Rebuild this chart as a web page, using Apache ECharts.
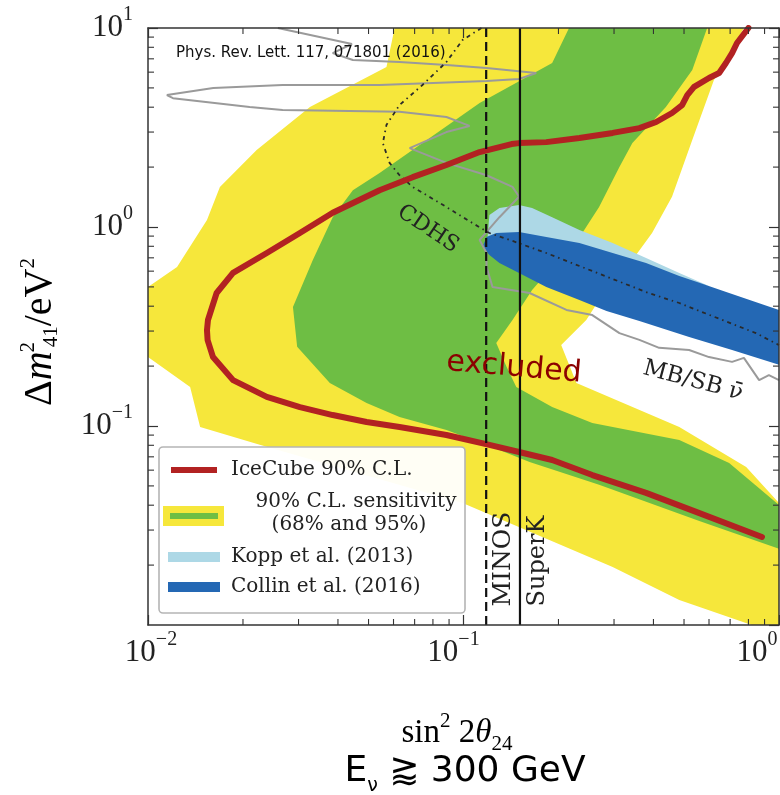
<!DOCTYPE html>
<html>
<head>
<meta charset="utf-8">
<title>IceCube sterile neutrino exclusion</title>
<script src="https://cdn.jsdelivr.net/npm/echarts@6/dist/echarts.min.js"></script>
<style>
  html, body { margin: 0; padding: 0; background: #ffffff; }
  #chart { width: 780px; height: 795px; }
</style>
</head>
<body>
<div id="chart"></div>
<script>
// ---- axes ---------------------------------------------------------------
const xRange = [0.01, 1];          // sin^2 2θ24
const yRange = [0.01, 10];         // Δm^2_41 [eV^2]
const xTickExponents = [-2, -1, 0];
const yTickExponents = [-1, 0, 1];
const minorMultipliers = [2, 3, 4, 5, 6, 7, 8, 9];

// ---- other experiments: vertical limits on sin^2 2θ24 -------------------
const minosLimit = 0.118;
const superKLimit = 0.151;

// ---- IceCube 90% C.L. contour [sin^2 2θ24, Δm^2_41] ---------------------
const iceCube90 = [
  [0.80, 10], [0.736, 8.41], [0.710, 7.48], [0.679, 6.67], [0.646, 5.94],
  [0.600, 5.61], [0.538, 5.06], [0.512, 4.60], [0.493, 4.10], [0.458, 3.74],
  [0.408, 3.37], [0.361, 3.14], [0.297, 2.97], [0.233, 2.80], [0.183, 2.67],
  [0.150, 2.64], [0.142, 2.61], [0.1125, 2.38], [0.0883, 2.05], [0.0690, 1.78],
  [0.0542, 1.53], [0.0385, 1.18], [0.0303, 0.933], [0.0238, 0.740],
  [0.0186, 0.588], [0.0165, 0.466], [0.01549, 0.341], [0.01538, 0.303],
  [0.01545, 0.270], [0.01607, 0.222], [0.0186, 0.170], [0.0238, 0.140],
  [0.0303, 0.1245], [0.0385, 0.1135], [0.0493, 0.1047], [0.0627, 0.0988],
  [0.0883, 0.0901], [0.1208, 0.0804], [0.150, 0.0740], [0.191, 0.0675],
  [0.256, 0.0567], [0.379, 0.0461], [0.546, 0.0370], [0.883, 0.0277]
];

// ---- expected sensitivity bands (closed outlines) ------------------------
const sensitivity95 = [
  [0.06, 12], [0.0605, 10], [0.0570, 6.37], [0.0326, 4.01], [0.0221, 2.44],
  [0.0169, 1.59], [0.01538, 1.084], [0.01236, 0.630], [0.01, 0.499],
  [0.008, 0.35], [0.01, 0.222], [0.0136, 0.157], [0.01463, 0.0988],
  [0.0226, 0.0804], [0.0993, 0.0410], [0.297, 0.01954], [0.483, 0.01336],
  [0.9, 0.0095], [1.05, 0.0095],
  [1.05, 0.037], [1.0, 0.0410], [0.787, 0.0622], [0.483, 0.0988],
  [0.228, 0.1644], [0.204, 0.255], [0.245, 0.341], [0.269, 0.430],
  [0.343, 0.683], [0.396, 0.933], [0.458, 1.42], [0.531, 2.74],
  [0.622, 5.48], [0.774, 10], [0.78, 12]
];
const sensitivity68 = [
  [0.216, 12], [0.216, 10], [0.191, 6.67], [0.1125, 4.20], [0.0823, 2.97],
  [0.0542, 1.87], [0.0446, 1.53], [0.0385, 1.12], [0.0333, 0.683],
  [0.0288, 0.396], [0.0297, 0.250], [0.0377, 0.1644], [0.0493, 0.1306],
  [0.0627, 0.1109], [0.0883, 0.0955], [0.1208, 0.0793], [0.162, 0.0659],
  [0.269, 0.0506], [0.559, 0.0333], [1.05, 0.0235],
  [1.05, 0.0375], [0.695, 0.0652], [0.483, 0.0851], [0.256, 0.1035],
  [0.191, 0.1245], [0.147, 0.157], [0.137, 0.198], [0.127, 0.261],
  [0.143, 0.341], [0.165, 0.482], [0.191, 0.630], [0.238, 0.933],
  [0.269, 1.26], [0.312, 2.00], [0.343, 2.64], [0.438, 4.01],
  [0.531, 6.15], [0.592, 10], [0.592, 12]
];

// ---- global-fit allowed regions ------------------------------------------
const kopp2013 = [
  [0.119, 0.861], [0.1208, 1.149], [0.130, 1.245], [0.150, 1.29],
  [0.165, 1.245], [0.191, 1.12], [0.233, 0.966], [0.297, 0.831],
  [0.379, 0.699], [0.483, 0.588], [0.600, 0.505],
  [0.388, 0.574], [0.201, 0.723], [0.130, 0.766]
];
const collin2016 = [
  [0.1156, 0.812], [0.1183, 0.891], [0.127, 0.933], [0.150, 0.944],
  [0.183, 0.891], [0.233, 0.831], [0.297, 0.740], [0.379, 0.660],
  [0.483, 0.568], [0.559, 0.524], [0.695, 0.466], [1.0, 0.383], [1.05, 0.375],
  [1.05, 0.197], [1.0, 0.203], [0.710, 0.241], [0.519, 0.280],
  [0.361, 0.337], [0.284, 0.378], [0.233, 0.430], [0.183, 0.499],
  [0.150, 0.588], [0.130, 0.660], [0.1208, 0.723], [0.117, 0.77]
];

// ---- MiniBooNE/SciBooNE antineutrino and CDHS contours -------------------
const mbsbContour = [
  [0.0258, 10], [0.0443, 8.31], [0.0385, 7.48], [0.0446, 6.90], [0.0627, 6.75],
  [0.0883, 6.52], [0.1183, 6.29], [0.170, 5.94], [0.150, 5.54], [0.1183, 5.42],
  [0.0542, 5.17], [0.0267, 5.17], [0.0161, 4.99], [0.01148, 4.60], [0.0120, 4.44],
  [0.0210, 4.01], [0.0267, 3.87], [0.0627, 3.79], [0.0883, 3.57], [0.1045, 3.22],
  [0.0883, 3.00], [0.0675, 2.49], [0.0883, 2.10], [0.1183, 1.82], [0.143, 1.59],
  [0.150, 1.42], [0.130, 1.12], [0.1125, 0.861], [0.1183, 0.740], [0.1183, 0.630],
  [0.1236, 0.499], [0.162, 0.466], [0.212, 0.383], [0.256, 0.361], [0.312, 0.293],
  [0.361, 0.271], [0.417, 0.247], [0.519, 0.241], [0.600, 0.222], [0.710, 0.210],
  [0.774, 0.220], [0.865, 0.170], [0.929, 0.180], [1.0, 0.170]
];
const cdhsContour = [
  [0.114, 10], [0.0993, 8.70], [0.0883, 6.75], [0.0741, 5.17], [0.0627, 4.10],
  [0.0570, 3.26], [0.0555, 2.64], [0.0583, 2.10], [0.0627, 1.82], [0.0690, 1.59],
  [0.0883, 1.26], [0.1067, 1.047], [0.1208, 0.933], [0.143, 0.851], [0.183, 0.740],
  [0.233, 0.637], [0.297, 0.548], [0.379, 0.471], [0.483, 0.415], [0.614, 0.357],
  [0.845, 0.293], [1.0, 0.255]
];

// ---- colours ---------------------------------------------------------------
const C = {
  yellow: '#f6e73b',
  green: '#6ebe44',
  lightBlue: '#add8e6',
  blue: '#2468b4',
  red: '#b22222',
  gray: '#9a9a9a',
  ink: '#222222',
  frame: '#333333'
};

// minor ticks (log decades) drawn through the axes' own scales
function minorValues(range) {
  const out = [];
  const lo = Math.round(Math.log10(range[0]));
  const hi = Math.round(Math.log10(range[1]));
  for (let k = lo; k < hi; k++) {
    minorMultipliers.forEach(m => out.push(m * Math.pow(10, k)));
  }
  return out;
}
const xMinor = minorValues(xRange);
const yMinor = minorValues(yRange);

function expText(e) { return e < 0 ? '\u2212' + (-e) : String(e); }

// small horizontal nudges of the bottom tick labels
const xLabelNudge = { '-2': [6, 0], '-1': [0, 20], '0': [0, 44] };

const tickRich = {
  b: { fontFamily: 'Liberation Serif', fontSize: 31, lineHeight: 46, color: C.ink },
  e: { fontFamily: 'Liberation Serif', fontSize: 20, verticalAlign: 'top', color: C.ink },
  g6: { width: 6, fontSize: 10 },
  g20: { width: 20, fontSize: 10 },
  g44: { width: 44, fontSize: 10 }
};

function polygonSeries(name, pts, color, z) {
  return {
    type: 'custom', name: name, coordinateSystem: 'cartesian2d',
    xAxisIndex: 0, yAxisIndex: 0, clip: true, silent: true, z: z,
    data: [[0.1, 1]],
    renderItem: function (params, api) {
      return {
        type: 'polygon',
        shape: { points: pts.map(p => api.coord(p)) },
        style: { fill: color, stroke: null }
      };
    }
  };
}

function lineSeries(name, pts, style, z) {
  return {
    type: 'line', name: name, data: pts, xAxisIndex: 0, yAxisIndex: 0,
    showSymbol: false, symbol: 'none', smooth: false, silent: true, z: z,
    clip: true, lineStyle: style
  };
}

function minorTickSeries(values, horizontal) {
  return {
    type: 'custom', coordinateSystem: 'cartesian2d', xAxisIndex: 0, yAxisIndex: 0,
    clip: false, silent: true, z: 12,
    data: values.map(v => horizontal ? [v, 1] : [0.1, v]),
    renderItem: function (params, api) {
      const cs = params.coordSys;
      const len = 6;
      const st = { stroke: C.frame, lineWidth: 1.1 };
      if (horizontal) {
        const px = api.coord([api.value(0), 1])[0];
        return { type: 'group', children: [
          { type: 'line', shape: { x1: px, y1: cs.y + cs.height, x2: px, y2: cs.y + cs.height - len }, style: st },
          { type: 'line', shape: { x1: px, y1: cs.y, x2: px, y2: cs.y + len }, style: st }
        ]};
      }
      const py = api.coord([0.1, api.value(1)])[1];
      return { type: 'group', children: [
        { type: 'line', shape: { x1: cs.x, y1: py, x2: cs.x + len, y2: py }, style: st },
        { type: 'line', shape: { x1: cs.x + cs.width, y1: py, x2: cs.x + cs.width - len, y2: py }, style: st }
      ]};
    }
  };
}

function axisBase(extra) {
  return Object.assign({
    type: 'log', logBase: 10,
    axisLine: { show: true, onZero: false, lineStyle: { color: C.frame, width: 1.5 } },
    axisTick: { show: true, inside: true, length: 10, lineStyle: { color: C.frame, width: 1.2 } },
    splitLine: { show: false },
    minorTick: { show: false },
    z: 10
  }, extra);
}

const xAxes = [
  axisBase({
    min: xRange[0], max: xRange[1], position: 'bottom',
    axisLabel: {
      margin: 5, verticalAlign: 'top', rich: tickRich,
      formatter: function (v) {
        const e = Math.round(Math.log10(v));
        if (xTickExponents.indexOf(e) < 0) return '';
        const nudge = xLabelNudge[String(e)] || [0, 0];
        return (nudge[0] ? '{g' + nudge[0] + '|\u00a0}' : '') +
          '{b|10}{e|' + expText(e) + '}' +
          (nudge[1] ? '{g' + nudge[1] + '|\u00a0}' : '');
      }
    }
  }),
  axisBase({ min: xRange[0], max: xRange[1], position: 'top', axisLabel: { show: false } })
];
const yAxes = [
  axisBase({
    min: yRange[0], max: yRange[1], position: 'left',
    axisLabel: {
      margin: 15, showMinLabel: false, rich: tickRich,
      formatter: function (v) {
        const e = Math.round(Math.log10(v));
        if (yTickExponents.indexOf(e) < 0) return '';
        return '{b|10}{e|' + expText(e) + '}';
      }
    }
  }),
  axisBase({ min: yRange[0], max: yRange[1], position: 'right', axisLabel: { show: false } })
];

// ---- annotation text & legend ----------------------------------------------
function mathStyles(base, script, lh) {
  const f = 'Liberation Serif';
  return {
    t: { fontFamily: f, fontSize: base, lineHeight: lh, color: C.ink },
    ti: { fontFamily: f, fontStyle: 'italic', fontSize: base, lineHeight: lh, color: C.ink },
    sp: { fontFamily: f, fontSize: script, verticalAlign: 'top', color: C.ink },
    sp0: { fontFamily: f, fontSize: script, verticalAlign: 'top', color: C.ink, width: 0, align: 'left' },
    sb: { fontFamily: f, fontSize: script, verticalAlign: 'bottom', color: C.ink, align: 'left' },
    g: { width: 4, fontSize: 8 }
  };
}
const legendFont = { fontFamily: 'DejaVu Serif', fontSize: 20, fill: C.ink };

const graphics = [
  { type: 'text', x: 176, y: 53, z: 100, silent: true,
    style: { text: 'Phys. Rev. Lett. 117, 071801 (2016)', fontFamily: 'DejaVu Sans', fontSize: 15,
             fill: '#111', align: 'left', verticalAlign: 'middle' } },
  { type: 'text', x: 428, y: 229, rotation: -0.59, z: 100, silent: true,
    style: { text: 'CDHS', fontFamily: 'DejaVu Serif', fontSize: 22, fill: C.ink,
             align: 'center', verticalAlign: 'middle' } },
  { type: 'text', x: 514, y: 368, rotation: -0.087, z: 100, silent: true,
    style: { text: 'excluded', fontFamily: 'DejaVu Sans', fontSize: 30, fill: '#8b0000',
             align: 'center', verticalAlign: 'middle' } },
  { type: 'text', x: 693, y: 381, rotation: -0.26, z: 100, silent: true,
    style: { text: 'MB/SB \u03bd\u0304', fontFamily: 'DejaVu Serif', fontSize: 23, fill: C.ink,
             align: 'center', verticalAlign: 'middle' } },
  { type: 'text', x: 503, y: 559, rotation: Math.PI / 2, z: 100, silent: true,
    style: { text: 'MINOS', fontFamily: 'DejaVu Serif', fontSize: 25, fill: C.ink,
             align: 'center', verticalAlign: 'middle' } },
  { type: 'text', x: 538, y: 561, rotation: Math.PI / 2, z: 100, silent: true,
    style: { text: 'SuperK', fontFamily: 'DejaVu Serif', fontSize: 24, fill: C.ink,
             align: 'center', verticalAlign: 'middle' } },
  // axis titles
  { type: 'text', x: 457, y: 733, z: 100, silent: true,
    style: { text: '{t|sin}{sp|2}{t| 2}{ti|\u03b8}{sb|24}', rich: mathStyles(33, 21, 44),
             align: 'center', verticalAlign: 'middle' } },
  { type: 'text', x: 40, y: 332, rotation: Math.PI / 2, z: 100, silent: true,
    style: { text: '{t|\u0394}{ti|m}{g|\u00a0}{sp0|2}{sb|41}{t|/eV}{sp|2}', rich: mathStyles(40, 21, 44),
             align: 'center', verticalAlign: 'middle' } },
  // energy note
  { type: 'text', x: 465, y: 772, z: 100, silent: true,
    style: {
      text: '{e|E}{s|\u03bd}{e| \u2a86 300 GeV}',
      rich: {
        e: { fontFamily: 'DejaVu Sans', fontSize: 36, lineHeight: 48, color: '#111' },
        s: { fontFamily: 'DejaVu Sans', fontSize: 19, verticalAlign: 'bottom', color: '#111' }
      },
      align: 'center', verticalAlign: 'middle'
    } },
  // legend
  { type: 'rect', z: 90, silent: true,
    shape: { x: 159, y: 447, width: 306, height: 166, r: 4 },
    style: { fill: 'rgba(255,255,255,0.95)', stroke: '#b5b5b5', lineWidth: 1.6 } },
  { type: 'line', z: 91, silent: true, shape: { x1: 171, y1: 470, x2: 217, y2: 470 },
    style: { stroke: C.red, lineWidth: 6 } },
  { type: 'text', x: 231, y: 470, z: 91, silent: true,
    style: Object.assign({ text: 'IceCube 90% C.L.', align: 'left', verticalAlign: 'middle' }, legendFont) },
  { type: 'rect', z: 91, silent: true, shape: { x: 163, y: 506, width: 61, height: 20 },
    style: { fill: C.yellow } },
  { type: 'line', z: 92, silent: true, shape: { x1: 170, y1: 516, x2: 218, y2: 516 },
    style: { stroke: C.green, lineWidth: 6 } },
  { type: 'text', x: 356, y: 502, z: 91, silent: true,
    style: Object.assign({ text: '90% C.L. sensitivity', align: 'center', verticalAlign: 'middle' }, legendFont) },
  { type: 'text', x: 349, y: 525, z: 91, silent: true,
    style: Object.assign({ text: '(68% and 95%)', align: 'center', verticalAlign: 'middle' }, legendFont) },
  { type: 'rect', z: 91, silent: true, shape: { x: 168, y: 552, width: 52, height: 10 },
    style: { fill: C.lightBlue } },
  { type: 'text', x: 231, y: 557, z: 91, silent: true,
    style: Object.assign({ text: 'Kopp et al. (2013)', align: 'left', verticalAlign: 'middle' }, legendFont) },
  { type: 'rect', z: 91, silent: true, shape: { x: 168, y: 582, width: 52, height: 10 },
    style: { fill: C.blue } },
  { type: 'text', x: 231, y: 587, z: 91, silent: true,
    style: Object.assign({ text: 'Collin et al. (2016)', align: 'left', verticalAlign: 'middle' }, legendFont) }
];

const option = {
  animation: false,
  backgroundColor: '#ffffff',
  grid: { left: 148, top: 28, right: 1, bottom: 170, containLabel: false, outerBoundsMode: 'none' },
  xAxis: xAxes,
  yAxis: yAxes,
  series: [
    polygonSeries('95% sensitivity', sensitivity95, C.yellow, 1),
    polygonSeries('68% sensitivity', sensitivity68, C.green, 2),
    polygonSeries('Kopp et al. (2013)', kopp2013, C.lightBlue, 3),
    polygonSeries('Collin et al. (2016)', collin2016, C.blue, 4),
    lineSeries('MB/SB', mbsbContour, { color: C.gray, width: 2 }, 5),
    lineSeries('CDHS', cdhsContour, { color: '#2a2a2a', width: 1.8, type: [4, 4, 1.5, 4] }, 6),
    lineSeries('IceCube 90% C.L.', iceCube90, { color: C.red, width: 6, join: 'round', cap: 'round' }, 7),
    lineSeries('MINOS', [[minosLimit, yRange[0]], [minosLimit, yRange[1]]],
               { color: '#111', width: 2.2, type: [9, 5] }, 8),
    lineSeries('SuperK', [[superKLimit, yRange[0]], [superKLimit, yRange[1]]],
               { color: '#111', width: 2.2 }, 8),
    minorTickSeries(xMinor, true),
    minorTickSeries(yMinor, false)
  ],
  graphic: graphics
};

const chart = echarts.init(document.getElementById('chart'), null, { renderer: 'canvas' });
chart.setOption(option);
</script>
</body>
</html>
